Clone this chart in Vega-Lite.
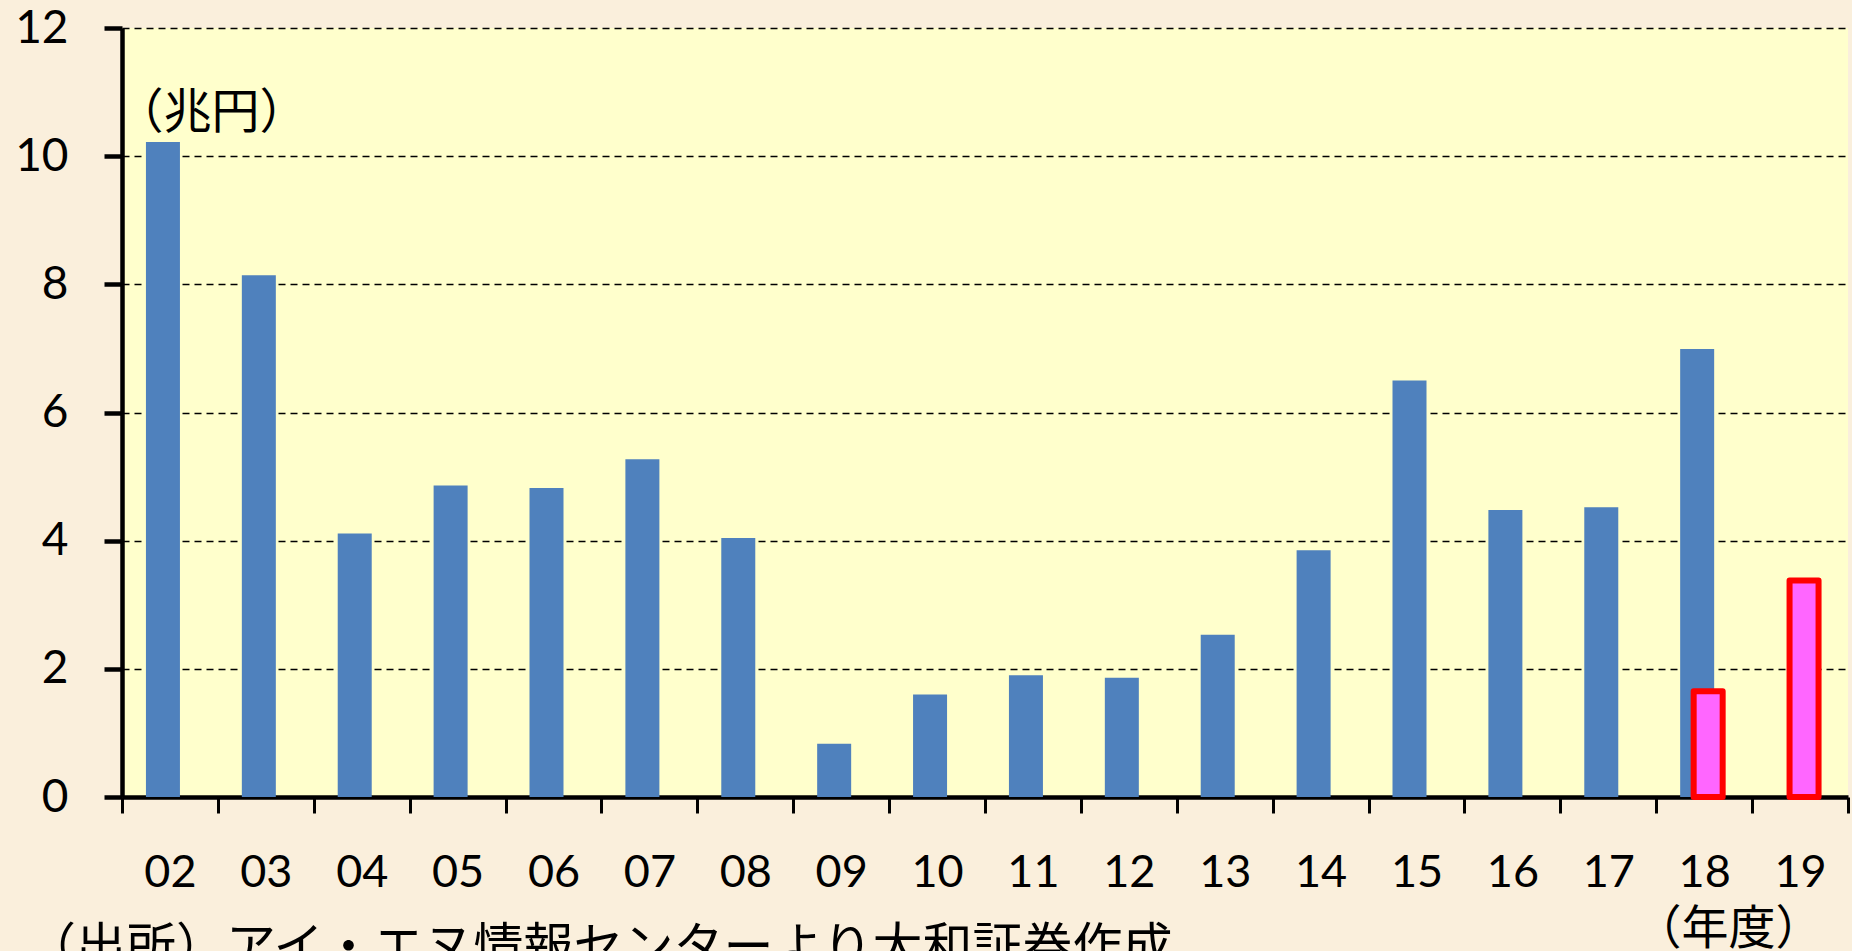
{
  "$schema": "https://vega.github.io/schema/vega-lite/v6.json",
  "width": 1726,
  "height": 769,
  "autosize": {"type": "none"},
  "padding": {"left": 122, "top": 28, "right": 4, "bottom": 154},
  "background": "#FAEFDC",
  "config": {
    "view": {"fill": "#FFFFCC", "stroke": null},
    "font": "Lato, 'Noto Sans CJK JP'"
  },
  "title": {
    "text": "（出所）アイ・エヌ情報センターより大和証券作成",
    "orient": "bottom",
    "anchor": "start",
    "frame": "group",
    "font": "'Noto Sans CJK JP'",
    "fontSize": 50,
    "fontWeight": "normal",
    "color": "#000000",
    "offset": -28,
    "dx": -96
  },
  "data": {
    "values": [
      {"year": "02", "series": "通期", "value": 10.22},
      {"year": "03", "series": "通期", "value": 8.14},
      {"year": "04", "series": "通期", "value": 4.11},
      {"year": "05", "series": "通期", "value": 4.86},
      {"year": "06", "series": "通期", "value": 4.82},
      {"year": "07", "series": "通期", "value": 5.27},
      {"year": "08", "series": "通期", "value": 4.04},
      {"year": "09", "series": "通期", "value": 0.83},
      {"year": "10", "series": "通期", "value": 1.6},
      {"year": "11", "series": "通期", "value": 1.9},
      {"year": "12", "series": "通期", "value": 1.86},
      {"year": "13", "series": "通期", "value": 2.53},
      {"year": "14", "series": "通期", "value": 3.85},
      {"year": "15", "series": "通期", "value": 6.5},
      {"year": "16", "series": "通期", "value": 4.48},
      {"year": "17", "series": "通期", "value": 4.52},
      {"year": "18", "series": "通期", "value": 6.99},
      {"year": "18", "series": "上期", "value": 1.65},
      {"year": "19", "series": "上期", "value": 3.38}
    ]
  },
  "encoding": {
    "x": {
      "field": "year",
      "type": "ordinal",
      "sort": null,
      "scale": {
        "domain": ["02","03","04","05","06","07","08","09","10","11","12","13","14","15","16","17","18","19"],
        "paddingInner": 0,
        "paddingOuter": 0
      },
      "axis": {
        "labelAngle": 0,
        "labelFontSize": 45,
        "labelColor": "#000000",
        "labelPadding": 37,
        "tickSize": 16,
        "tickWidth": 3,
        "tickColor": "#000000",
        "tickBand": "extent",
        "domainWidth": 4.5,
        "domainColor": "#000000",
        "grid": false,
        "title": "（年度）",
        "titleFont": "'Noto Sans CJK JP'",
        "titleFontSize": 47,
        "titleFontWeight": "normal",
        "titleColor": "#000000",
        "titleX": 1606,
        "titleY": 132,
        "titleAlign": "center",
        "titleBaseline": "middle"
      }
    },
    "y": {
      "field": "value",
      "type": "quantitative",
      "scale": {"domain": [0, 12], "nice": false},
      "axis": {
        "values": [0, 2, 4, 6, 8, 10, 12],
        "labelFontSize": 46,
        "labelColor": "#000000",
        "labelPadding": 36,
        "tickSize": 18,
        "tickWidth": 4.5,
        "tickColor": "#000000",
        "domainWidth": 4.5,
        "domainColor": "#000000",
        "grid": true,
        "gridColor": "#000000",
        "gridDash": [7, 5],
        "gridWidth": 1.6,
        "title": "（兆円）",
        "titleFont": "'Noto Sans CJK JP'",
        "titleFontSize": 48,
        "titleFontWeight": "normal",
        "titleColor": "#000000",
        "titleAngle": 0,
        "titleX": 89,
        "titleY": 85,
        "titleAlign": "center",
        "titleBaseline": "middle"
      }
    }
  },
  "layer": [
    {
      "transform": [{"filter": "datum.series === '通期'"}],
      "mark": {"type": "bar", "width": 34, "xOffset": -7, "color": "#4F81BD"}
    },
    {
      "transform": [{"filter": "datum.series === '上期'"}],
      "mark": {"type": "bar", "width": 29, "xOffset": 4, "fill": "#FF66FF", "stroke": "#FF0000", "strokeWidth": 6, "strokeJoin": "round"}
    }
  ]
}
